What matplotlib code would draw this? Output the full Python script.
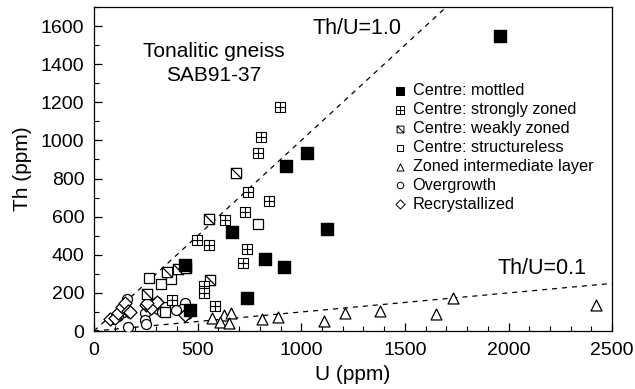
import matplotlib
matplotlib.use("Agg")
import matplotlib.pyplot as plt
from matplotlib.path import Path
from matplotlib.ticker import MultipleLocator

plt.rcParams['font.family'] = ['Liberation Sans', 'DejaVu Sans']

# data (U ppm, Th ppm)
mottled_u = [1960, 1028, 927, 666, 1124, 825, 917, 738, 439, 463]
mottled_th = [1550, 934, 866, 520, 535, 378, 336, 173, 346, 110]

strong_u = [898, 806, 792, 743, 845, 729, 632, 497, 555, 738, 719, 531, 531, 584, 376]
strong_th = [1175, 1018, 934, 729, 682, 624, 582, 477, 451, 430, 357, 235, 200, 131, 163]

weak_u = [685, 555, 352, 405, 444, 560, 256]
weak_th = [829, 588, 310, 325, 330, 268, 194]

structless_u = [792, 265, 323, 372, 345]
structless_th = [561, 278, 247, 273, 100]

layer_u = [570, 625, 660, 610, 650, 810, 890, 1110, 1210, 1380, 1650, 1730, 2420]
layer_th = [70, 85, 95, 45, 40, 65, 75, 55, 95, 105, 90, 175, 135]

over_u = [159, 140, 118, 88, 246, 246, 250, 304, 309, 343, 330, 439, 425, 449, 164, 395]
over_th = [168, 100, 80, 65, 94, 58, 35, 152, 115, 126, 100, 147, 115, 89, 21, 110]

recr_u = [77, 100, 116, 135, 149, 164, 174, 252, 277, 304, 256, 439]
recr_th = [63, 70, 94, 126, 147, 105, 100, 137, 121, 152, 147, 84]

ratio_lines = [1.0, 0.1]

M, L, C = Path.MOVETO, Path.LINETO, Path.CLOSEPOLY
sq_cross = Path([(-1, -1), (1, -1), (1, 1), (-1, 1), (-1, -1),
                 (0, -1), (0, 1), (-1, 0), (1, 0)],
                [M, L, L, L, C, M, L, M, L])
sq_diag = Path([(-1, -1), (1, -1), (1, 1), (-1, 1), (-1, -1),
                (-1, 1), (1, -1)],
               [M, L, L, L, C, M, L])

fig = plt.figure(figsize=(6.35, 3.89), dpi=100)
ax = fig.add_axes([0.148, 0.149, 0.816, 0.833])

# reference lines
for r in ratio_lines:
    ax.plot([0, 2500], [0, 2500 * r], color='k', lw=0.9, ls=(0, (4, 4)))

ms = 44
ax.scatter(layer_u, layer_th, s=62, marker='^', facecolor='white', edgecolor='k', lw=0.9,
           label='Zoned intermediate layer', zorder=3)
ax.scatter(over_u, over_th, s=ms + 8, marker='o', facecolor='white', edgecolor='k', lw=0.9,
           label='Overgrowth', zorder=3)
ax.scatter(recr_u, recr_th, s=ms, marker='D', facecolor='white', edgecolor='k', lw=0.9,
           label='Recrystallized', zorder=3)
ax.scatter(structless_u, structless_th, s=ms + 10, marker='s', facecolor='white', edgecolor='k',
           lw=0.9, label='Centre: structureless', zorder=3)
ax.scatter(weak_u, weak_th, s=ms + 10, marker=sq_diag, facecolor='white', edgecolor='k', lw=0.9,
           label='Centre: weakly zoned', zorder=3)
ax.scatter(strong_u, strong_th, s=ms, marker=sq_cross, facecolor='white', edgecolor='k', lw=0.8,
           label='Centre: strongly zoned', zorder=3)
ax.scatter(mottled_u, mottled_th, s=70, marker='s', facecolor='k', edgecolor='k',
           label='Centre: mottled', zorder=4)

handles, labels = ax.get_legend_handles_labels()
order = ['Centre: mottled', 'Centre: strongly zoned', 'Centre: weakly zoned',
         'Centre: structureless', 'Zoned intermediate layer', 'Overgrowth', 'Recrystallized']
hmap = dict(zip(labels, handles))
leg = ax.legend([hmap[k] for k in order], order, loc='upper left',
                bbox_to_anchor=(0.56, 0.79), frameon=False, fontsize=11.7,
                handletextpad=0.35, labelspacing=0.24,
                handlelength=0.9, borderpad=0)
leg_sizes = [30, 26, 24, 24, 26, 22, 22]
for h, sz in zip(leg.legend_handles, leg_sizes):
    h.set_sizes([sz])
    h.set_linewidth(0.7)

ax.text(0.231, 0.826, 'Tonalitic gneiss\nSAB91-37', transform=ax.transAxes,
        ha='center', va='center', fontsize=15, linespacing=1.3)
ax.text(0.508, 0.935, 'Th/U=1.0', transform=ax.transAxes, ha='center', va='center', fontsize=15.5)
ax.text(0.865, 0.194, 'Th/U=0.1', transform=ax.transAxes, ha='center', va='center', fontsize=15.5)

ax.set_xlim(0, 2500)
ax.set_ylim(0, 1700)
ax.xaxis.set_major_locator(MultipleLocator(500))
ax.xaxis.set_minor_locator(MultipleLocator(100))
ax.yaxis.set_major_locator(MultipleLocator(200))
ax.yaxis.set_minor_locator(MultipleLocator(100))
ax.tick_params(which='both', direction='in', top=False, right=False, labelsize=14)
ax.tick_params(which='major', length=6, width=0.9)
ax.tick_params(axis='y', which='major', pad=7)
ax.tick_params(axis='x', which='major', pad=8)
ax.tick_params(which='minor', length=3.5, width=0.8)
for s in ax.spines.values():
    s.set_linewidth(0.9)

ax.set_xlabel('U (ppm)', fontsize=15, labelpad=4)
ax.set_ylabel('Th (ppm)', fontsize=15, labelpad=6)

fig.savefig('out.png', dpi=100)
